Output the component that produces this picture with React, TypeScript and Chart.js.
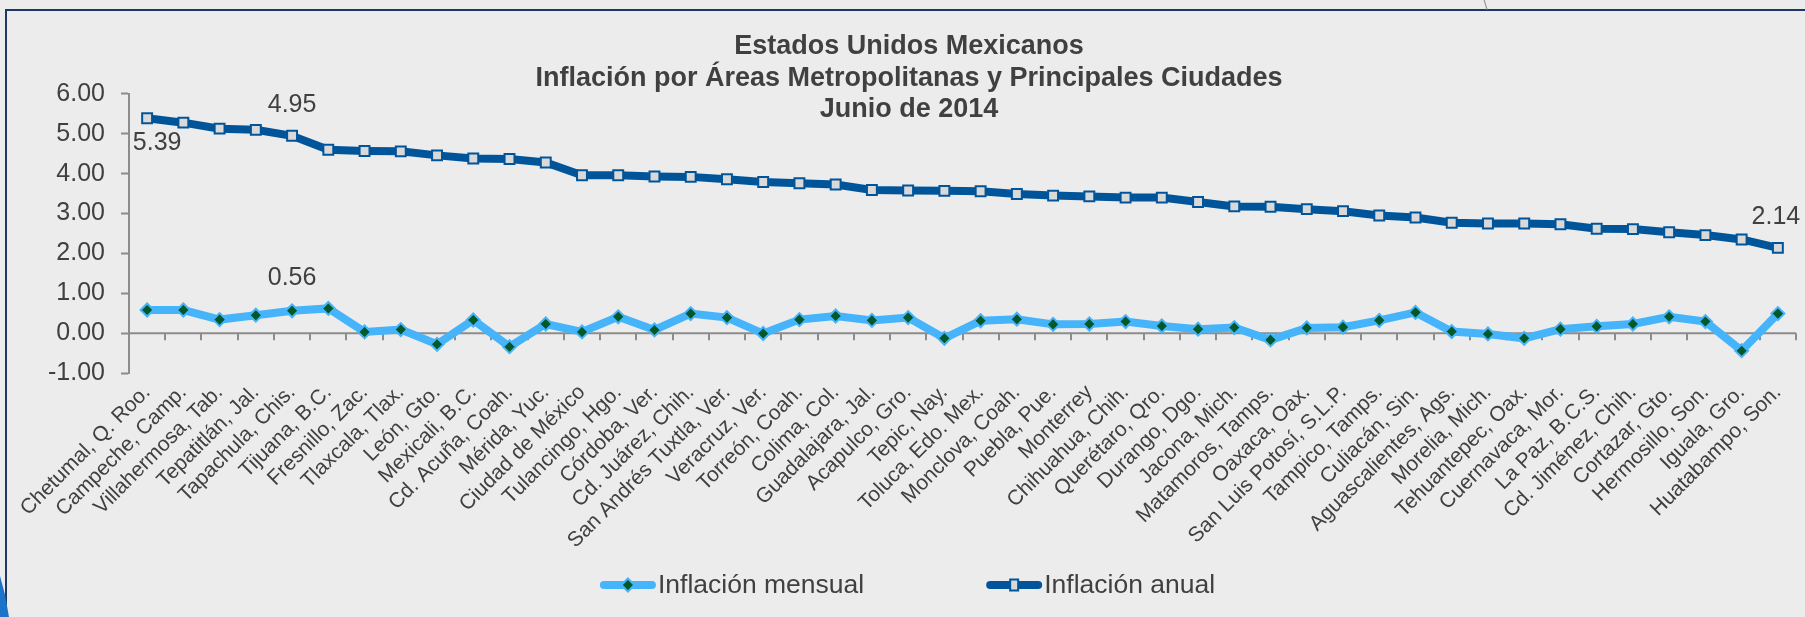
import React, { useEffect, useRef } from "react";
import { Chart, registerables } from "chart.js";

Chart.register(...registerables);

const titleLines = [
  "Estados Unidos Mexicanos",
  "Inflación por Áreas Metropolitanas y Principales Ciudades",
  "Junio de 2014",
];

const categories = [
  "Chetumal, Q. Roo.", "Campeche, Camp.", "Villahermosa, Tab.", "Tepatitlán, Jal.",
  "Tapachula, Chis.", "Tijuana, B.C.", "Fresnillo, Zac.", "Tlaxcala, Tlax.",
  "León, Gto.", "Mexicali, B.C.", "Cd. Acuña, Coah.", "Mérida, Yuc.",
  "Ciudad de México", "Tulancingo, Hgo.", "Córdoba, Ver.", "Cd. Juárez, Chih.",
  "San Andrés Tuxtla, Ver.", "Veracruz, Ver.", "Torreón, Coah.", "Colima, Col.",
  "Guadalajara, Jal.", "Acapulco, Gro.", "Tepic, Nay.", "Toluca, Edo. Mex.",
  "Monclova, Coah.", "Puebla, Pue.", "Monterrey", "Chihuahua, Chih.",
  "Querétaro, Qro.", "Durango, Dgo.", "Jacona, Mich.", "Matamoros, Tamps.",
  "Oaxaca, Oax.", "San Luis Potosí, S.L.P.", "Tampico, Tamps.", "Culiacán, Sin.",
  "Aguascalientes, Ags.", "Morelia, Mich.", "Tehuantepec, Oax.", "Cuernavaca, Mor.",
  "La Paz, B.C.S.", "Cd. Jiménez, Chih.", "Cortazar, Gto.", "Hermosillo, Son.",
  "Iguala, Gro.", "Huatabampo, Son.",
];

const inflacionMensual = [
  0.58, 0.58, 0.34, 0.45, 0.56, 0.62, 0.03, 0.09, -0.28, 0.33,
  -0.34, 0.23, 0.03, 0.41, 0.08, 0.49, 0.39, -0.01, 0.34, 0.43,
  0.32, 0.39, -0.13, 0.31, 0.35, 0.22, 0.23, 0.29, 0.18, 0.10,
  0.14, -0.17, 0.13, 0.15, 0.32, 0.52, 0.04, -0.02, -0.13, 0.10,
  0.17, 0.23, 0.41, 0.29, -0.44, 0.49,
];

const inflacionAnual = [
  5.39, 5.28, 5.13, 5.10, 4.95, 4.60, 4.57, 4.56, 4.46, 4.38,
  4.37, 4.28, 3.96, 3.96, 3.93, 3.92, 3.86, 3.79, 3.76, 3.73,
  3.59, 3.58, 3.57, 3.56, 3.49, 3.45, 3.43, 3.40, 3.40, 3.29,
  3.18, 3.17, 3.11, 3.06, 2.95, 2.90, 2.77, 2.75, 2.75, 2.73,
  2.62, 2.61, 2.53, 2.46, 2.35, 2.14,
];

const seriesNames = ["Inflación mensual", "Inflación anual"];

const yMin = -1;
const yMax = 6;
const yStep = 1;

// [datasetIndex, pointIndex] of points that carry a value label
const labeledPoints: [number, number][] = [
  [1, 0],
  [1, 4],
  [0, 4],
  [1, 45],
];

const FONT = "'Liberation Sans', Arial, Helvetica, sans-serif";
const TEXT = "#404040";
const AXIS = "#8c8c8c";
const DARK_BLUE = "#00559a";
const LIGHT_BLUE = "#45b4fb";
const GREEN = "#00582b";
const SQUARE_FILL = "#d9d9d9";

// label offsets (style), same order as labeledPoints
const labelOffsets = [
  { dx: 10, dy: 25 },
  { dx: 0, dy: -31 },
  { dx: 0, dy: -33 },
  { dx: -2, dy: -31 },
];

const zeroLinePlugin = {
  id: "zeroLine",
  beforeDatasetsDraw(chart: any) {
    const { ctx } = chart;
    const xs = chart.scales.x;
    const ys = chart.scales.y;
    const y0 = ys.getPixelForValue(0);
    ctx.save();
    ctx.strokeStyle = AXIS;
    ctx.lineWidth = 2;
    ctx.beginPath();
    ctx.moveTo(xs.left, y0);
    ctx.lineTo(xs.right, y0);
    for (let i = 1; i <= categories.length; i++) {
      const x = Math.round(xs.getPixelForValue(i - 0.5));
      ctx.moveTo(x, y0);
      ctx.lineTo(x, y0 + 7);
    }
    ctx.stroke();
    ctx.restore();
  },
};

const valueLabelPlugin = {
  id: "valueLabels",
  afterDatasetsDraw(chart: any) {
    const { ctx } = chart;
    ctx.save();
    ctx.font = `25px ${FONT}`;
    ctx.fillStyle = TEXT;
    ctx.textAlign = "center";
    ctx.textBaseline = "middle";
    labeledPoints.forEach(([ds, idx], k) => {
      const el = chart.getDatasetMeta(ds).data[idx];
      const v = chart.data.datasets[ds].data[idx] as number;
      const o = labelOffsets[k];
      ctx.fillText(v.toFixed(2), el.x + o.dx, el.y + o.dy);
    });
    ctx.restore();
  },
};

function drawDiamond(ctx: CanvasRenderingContext2D, x: number, y: number, r: number) {
  ctx.beginPath();
  ctx.moveTo(x, y - r);
  ctx.lineTo(x + r, y);
  ctx.lineTo(x, y + r);
  ctx.lineTo(x - r, y);
  ctx.closePath();
  ctx.fillStyle = GREEN;
  ctx.fill();
  ctx.lineWidth = 2;
  ctx.strokeStyle = LIGHT_BLUE;
  ctx.stroke();
}

const customLegendPlugin = {
  id: "customLegend",
  afterDraw(chart: any) {
    const { ctx } = chart;
    ctx.save();
    ctx.font = `26.5px ${FONT}`;
    const lineW = 56;
    const gap = 2;
    const spacing = 122;
    const w0 = ctx.measureText(seriesNames[0]).width;
    const w1 = ctx.measureText(seriesNames[1]).width;
    const total = lineW + gap + w0 + spacing + lineW + gap + w1;
    const cy = 585;
    let x = chart.width / 2 + 5 - total / 2;

    ctx.lineCap = "round";
    // item 1
    ctx.strokeStyle = LIGHT_BLUE;
    ctx.lineWidth = 8;
    ctx.beginPath();
    ctx.moveTo(x + 4, cy);
    ctx.lineTo(x + lineW - 4, cy);
    ctx.stroke();
    drawDiamond(ctx, x + lineW / 2, cy, 6.5);
    ctx.fillStyle = TEXT;
    ctx.textAlign = "left";
    ctx.textBaseline = "middle";
    ctx.fillText(seriesNames[0], x + lineW + gap, cy + 1);
    x += lineW + gap + w0 + spacing;

    // item 2
    ctx.strokeStyle = DARK_BLUE;
    ctx.lineWidth = 8;
    ctx.beginPath();
    ctx.moveTo(x + 4, cy);
    ctx.lineTo(x + lineW - 4, cy);
    ctx.stroke();
    ctx.fillStyle = SQUARE_FILL;
    ctx.strokeStyle = DARK_BLUE;
    ctx.lineWidth = 2;
    ctx.fillRect(x + lineW / 2 - 4, cy - 5.5, 8, 11);
    ctx.strokeRect(x + lineW / 2 - 4, cy - 5.5, 8, 11);
    ctx.fillStyle = TEXT;
    ctx.fillText(seriesNames[1], x + lineW + gap, cy + 1);
    ctx.restore();
  },
};

export default function App() {
  const canvasRef = useRef<HTMLCanvasElement | null>(null);

  useEffect(() => {
    const canvas = canvasRef.current;
    if (!canvas) return;
    const chart = new Chart(canvas, {
      type: "line",
      data: {
        labels: categories,
        datasets: [
          {
            label: seriesNames[0],
            data: inflacionMensual,
            borderColor: LIGHT_BLUE,
            borderWidth: 8,
            tension: 0,
            pointStyle: "rectRot",
            pointRadius: 6.5,
            pointBackgroundColor: GREEN,
            pointBorderColor: LIGHT_BLUE,
            pointBorderWidth: 2,
          },
          {
            label: seriesNames[1],
            data: inflacionAnual,
            borderColor: DARK_BLUE,
            borderWidth: 8,
            tension: 0,
            pointStyle: "rect",
            pointRadius: 7,
            pointBackgroundColor: SQUARE_FILL,
            pointBorderColor: DARK_BLUE,
            pointBorderWidth: 2,
          },
        ],
      },
      options: {
        responsive: false,
        animation: false,
        devicePixelRatio: 1,
        layout: { padding: { left: 20, right: 7, top: 0, bottom: 0 } },
        plugins: {
          legend: { display: false },
          tooltip: { enabled: false },
          title: {
            display: true,
            text: titleLines,
            color: TEXT,
            font: { family: FONT, size: 27, weight: "bold", lineHeight: 1.17 },
            padding: { top: 31, bottom: -31.8 },
          },
        },
        scales: {
          x: {
            type: "category",
            offset: true,
            grid: { display: false, drawTicks: false },
            border: { display: false },
            ticks: {
              autoSkip: false,
              maxRotation: 45,
              minRotation: 45,
              padding: 7,
              color: TEXT,
              font: { family: FONT, size: 21 },
            },
            afterFit: (s: any) => {
              s.height = 244;
            },
          },
          y: {
            min: yMin,
            max: yMax,
            ticks: {
              stepSize: yStep,
              padding: 16,
              color: TEXT,
              font: { family: FONT, size: 25 },
              callback: (v: any) => Number(v).toFixed(2),
            },
            grid: {
              drawOnChartArea: false,
              drawTicks: true,
              tickLength: 8,
              tickColor: AXIS,
              tickWidth: 2,
            },
            border: { color: AXIS, width: 2 },
            afterFit: (s: any) => {
              s.width = 109;
            },
          },
        },
      },
      plugins: [zeroLinePlugin, valueLabelPlugin, customLegendPlugin],
    } as any);
    return () => chart.destroy();
  }, []);

  return (
    <div
      style={{
        position: "fixed",
        left: 0,
        top: 0,
        width: 1805,
        height: 617,
        background: "#ececec",
        overflow: "hidden",
      }}
    >
      <div
        style={{
          position: "absolute",
          left: 5,
          top: 9,
          width: 1840,
          height: 660,
          border: "2px solid #1f3763",
          boxSizing: "border-box",
        }}
      />
      <div
        style={{
          position: "absolute",
          left: 0,
          top: 576,
          width: 9,
          height: 41,
          background: "#1b74c8",
          clipPath: "polygon(0 0, 55% 45%, 100% 100%, 0 100%)",
        }}
      />
      <div
        style={{
          position: "absolute",
          left: 1485,
          top: -1,
          width: 1,
          height: 11,
          background: "#8a8a8a",
          transform: "rotate(-17deg)",
        }}
      />
      <canvas
        ref={canvasRef}
        width={1805}
        height={617}
        style={{ position: "absolute", left: 0, top: 0, width: 1805, height: 617 }}
      />
    </div>
  );
}
